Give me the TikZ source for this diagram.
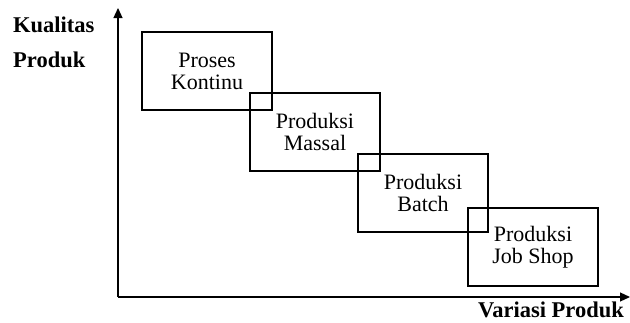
\documentclass[tikz,border=0pt]{standalone}
\usepackage{fontspec}
\setmainfont{Liberation Serif}
\usetikzlibrary{arrows.meta}
\begin{document}
\begin{tikzpicture}[x=1pt,y=-1pt,
  stage/.style={draw, line width=1.2pt, minimum width=130pt, minimum height=78pt,
    align=center, inner sep=0pt, font=\fontsize{22}{22}\selectfont},
  axislabel/.style={inner sep=0pt, font=\fontsize{22.5}{22}\selectfont\bfseries},
  axis/.style={line width=1.2pt, -{Triangle[length=10pt,width=9pt]}}]
\useasboundingbox (0,0) rectangle (630,322);
% axes
\coordinate (o) at (118,297);
\coordinate (ytop) at (118,8);
\coordinate (xend) at (630,297);
\draw[axis] (o) -- (ytop);
\draw[axis] (o) -- (xend);
% axis labels
\node[axislabel, anchor=base west] (ql1) at (13,32) {Kualitas};
\node[axislabel, anchor=base west] (ql2) at (13,67) {Produk};
\node[axislabel, anchor=base east] (vp) at (624,317) {Variasi Produk};
% process types
\node[stage] (kontinu) at (207,71) {Proses\\Kontinu};
\node[stage] (massal) at (315,132) {Produksi\\Massal};
\node[stage] (batch) at (423,193) {Produksi\\Batch};
\node[stage] (jobshop) at (533,247) {Produksi\\Job Shop};
\end{tikzpicture}
\end{document}
